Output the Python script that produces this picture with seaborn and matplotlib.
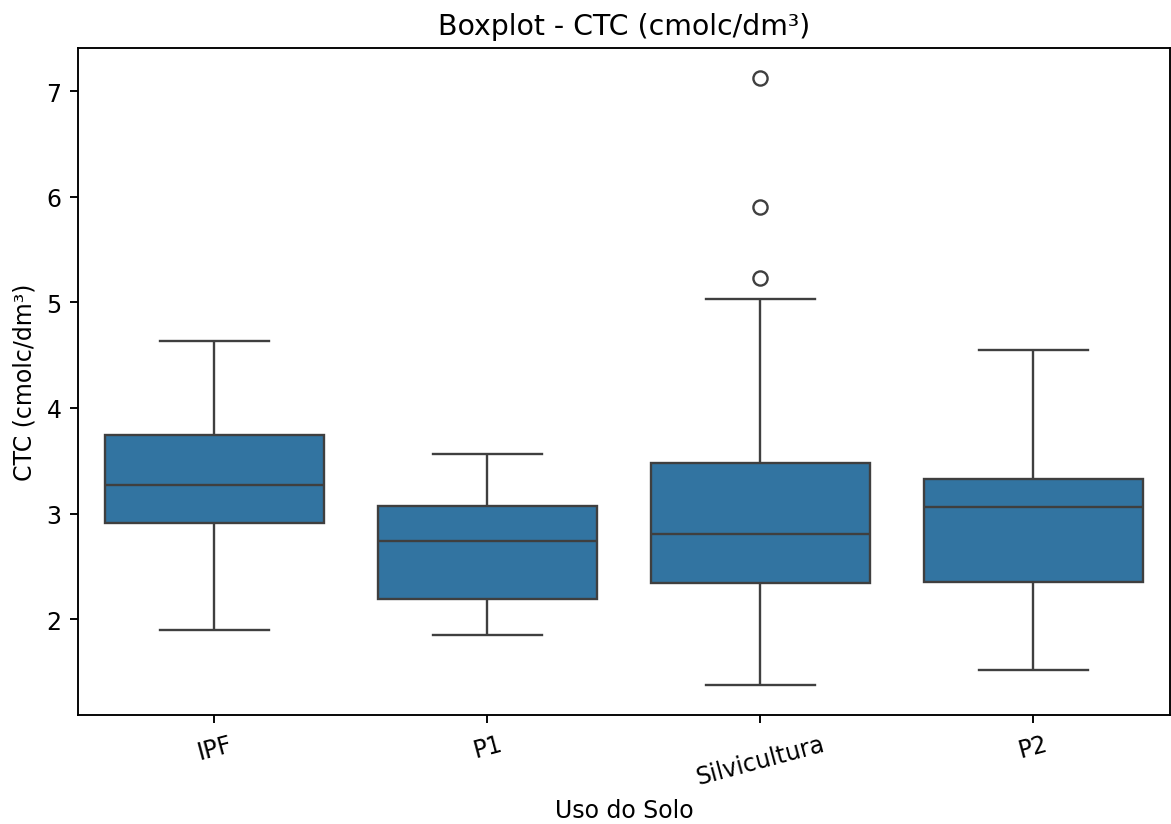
import pandas as pd
import matplotlib
matplotlib.use("Agg")
import matplotlib.pyplot as plt
import seaborn as sns

# valores de CTC por uso do solo
ipf = [1.90, 2.60, 2.91, 3.10, 3.27, 3.50, 3.74, 4.10, 4.63]
p1 = [1.85, 2.00, 2.19, 2.50, 2.74, 2.90, 3.07, 3.30, 3.56]
silvicultura = [1.38, 1.75, 2.05, 2.20, 2.34, 2.50, 2.62, 2.70, 2.81,
                3.00, 3.15, 3.30, 3.48, 5.03, 5.23, 5.90, 7.12]
p2 = [1.52, 2.00, 2.35, 2.80, 3.06, 3.20, 3.33, 3.90, 4.55]
usos = ['IPF', 'P1', 'Silvicultura', 'P2']

df = pd.DataFrame({
    'Uso do Solo': ['IPF'] * len(ipf) + ['P1'] * len(p1)
                   + ['Silvicultura'] * len(silvicultura) + ['P2'] * len(p2),
    'CTC (cmolc/dm³)': ipf + p1 + silvicultura + p2,
})

dpi = 170
fig = plt.figure(figsize=(1171 / dpi, 825 / dpi), dpi=dpi)
ax = fig.add_axes([0.0666, 0.1321, 0.9324, 0.8085])
sns.boxplot(data=df, x='Uso do Solo', y='CTC (cmolc/dm³)', order=usos, ax=ax)
ax.set_title('Boxplot - CTC (cmolc/dm³)')
plt.xticks(rotation=15)
fig.savefig('out.png', dpi=dpi)
